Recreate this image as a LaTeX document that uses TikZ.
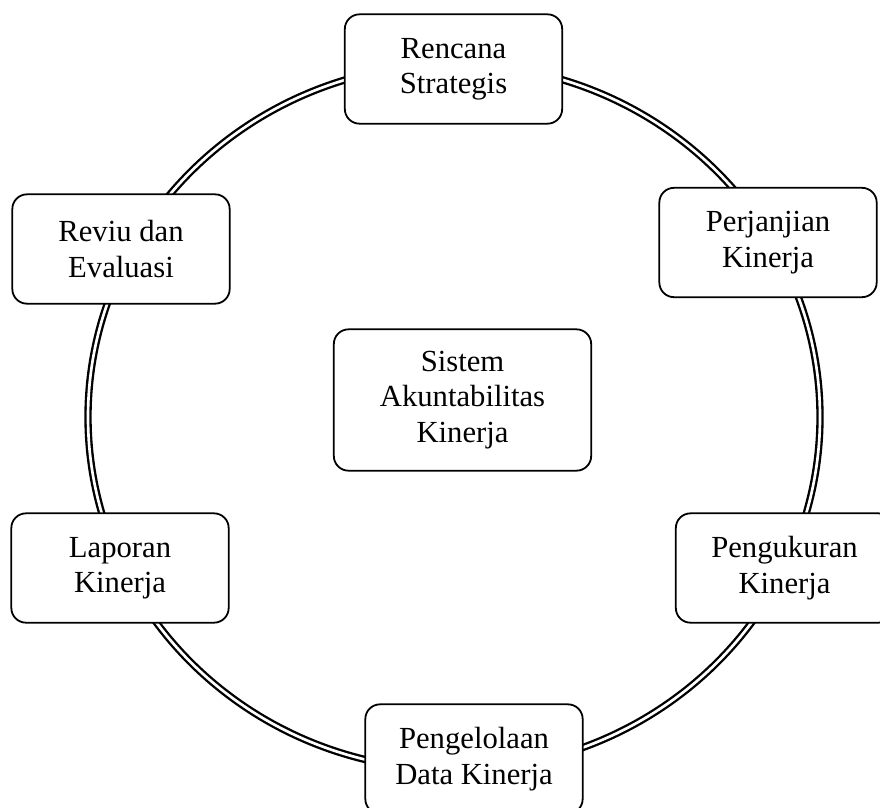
\documentclass[tikz,border=0pt]{standalone}
\usepackage{fontspec}
\setmainfont{Liberation Serif}
\begin{document}
\begin{tikzpicture}[x=0.75pt,y=-0.75pt,
  stage/.style={draw, line width=1.35pt, rounded corners=11pt, fill=white,
    minimum width=163pt, minimum height=82pt, align=center, inner sep=0pt,
    font=\fontsize{23}{26.5}\selectfont},
  hub/.style={stage, minimum width=193pt, minimum height=106pt},
  ring/.style={double, line width=1.75pt, double distance=2pt}]
\useasboundingbox (0,0) rectangle (880,807);
\clip (0,0) rectangle (880,807);
\coordinate (c) at (454,417);
\draw[ring] (c) ellipse [x radius=274.5pt, y radius=264.75pt];
\node[stage] (rs) at (453.5,69) {Rencana\\Strategis};
\node[stage] (pk) at (768,242.5) {Perjanjian\\Kinerja};
\node[stage] (pu) at (784.5,568) {Pengukuran\\Kinerja};
\node[stage] (pd) at (474,759) {Pengelolaan\\Data Kinerja};
\node[stage] (lk) at (120,568) {Laporan\\Kinerja};
\node[stage] (re) at (121,249) {Reviu dan\\Evaluasi};
\node[hub] (sak) at (462.5,400) {Sistem\\Akuntabilitas\\Kinerja};
\end{tikzpicture}
\end{document}
